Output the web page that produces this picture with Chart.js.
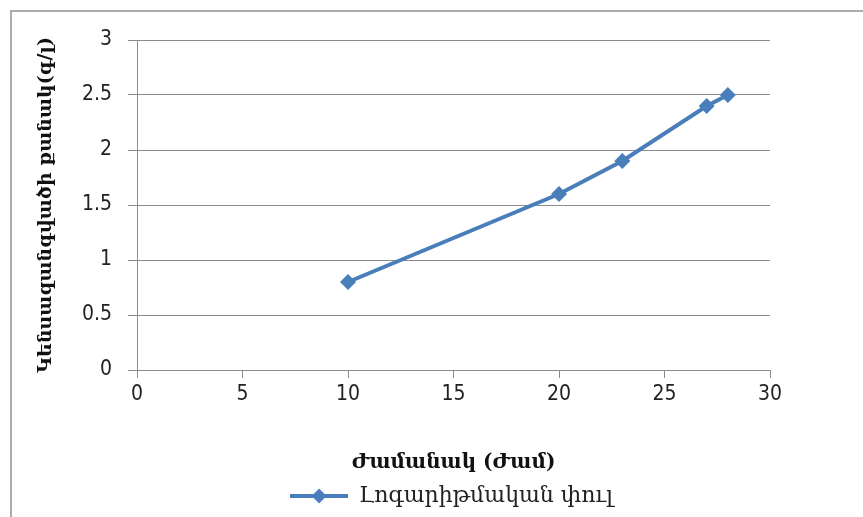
<!DOCTYPE html>
<html>
<head>
<meta charset="utf-8">
<script src="https://cdn.jsdelivr.net/npm/chart.js@4.4.1/dist/chart.umd.min.js"></script>
<style>
  html, body { margin: 0; padding: 0; background: #fff; }
  #wrap { position: relative; width: 863px; height: 517px; overflow: hidden; }
  #frame { position: absolute; left: 10px; top: 10px; width: 900px; height: 560px;
           border: 2px solid #acacac; box-sizing: border-box; pointer-events: none; }
  canvas { position: absolute; left: 0; top: 0; }
</style>
</head>
<body>
<div id="wrap">
  <canvas id="c" width="863" height="517"></canvas>
  <div id="frame"></div>
</div>
<script>
// Biomass growth during the logarithmic phase
const hours   = [10, 20, 23, 27, 28];
const biomass = [0.8, 1.6, 1.9, 2.4, 2.5];
const xTicks  = [0, 5, 10, 15, 20, 25, 30];
const yTicks  = [0, 0.5, 1, 1.5, 2, 2.5, 3];

const seriesLabel = 'Լոգարիթմական փուլ';
const xTitle = 'Ժամանակ (Ժամ)';
const yTitle = 'Կենսազանգվածի քանակ(գ/լ)';

const BLUE = '#4a7ebb';
const GRID = '#8c8c8c';
const TICK_FONT = { family: "'Liberation Sans Narrow', 'DejaVu Sans Condensed', sans-serif", size: 21 };
const ARM_FONT = "'DejaVu Serif', serif";

// Legend symbol: a short line with a diamond in the middle
const icon = document.createElement('canvas');
icon.width = 58; icon.height = 18;
(function () {
  const g = icon.getContext('2d');
  g.strokeStyle = BLUE; g.lineWidth = 4;
  g.beginPath(); g.moveTo(0, 9); g.lineTo(58, 9); g.stroke();
  g.fillStyle = BLUE;
  g.beginPath(); g.moveTo(29, 1.5); g.lineTo(36.5, 9); g.lineTo(29, 16.5); g.lineTo(21.5, 9); g.closePath(); g.fill();
})();

// Center the legend under the plot area rather than the padded layout box
const legendShift = {
  id: 'legendShift',
  afterLayout(chart) {
    if (chart.legend) {
      chart.legend.left = 40;
      chart.legend.right = 863;
    }
  }
};

new Chart(document.getElementById('c'), {
  type: 'line',
  data: {
    datasets: [{
      label: seriesLabel,
      data: hours.map((h, i) => ({ x: h, y: biomass[i] })),
      borderColor: BLUE,
      backgroundColor: BLUE,
      borderWidth: 4,
      pointStyle: 'rectRot',
      pointRadius: 8,
      pointHoverRadius: 8,
      pointBorderWidth: 0,
      tension: 0
    }]
  },
  plugins: [legendShift],
  options: {
    responsive: false,
    animation: false,
    layout: { padding: { top: 40, right: 93, left: 0, bottom: 0 } },
    plugins: {
      tooltip: { enabled: false },
      legend: {
        position: 'bottom',
        align: 'center',
        labels: {
          usePointStyle: true,
          pointStyle: icon,
          pointStyleWidth: 58,
          boxHeight: 18,
          padding: 10,
          color: '#222',
          font: { family: ARM_FONT, size: 22 }
        }
      }
    },
    scales: {
      x: {
        type: 'linear',
        min: 0, max: 30,
        afterBuildTicks: s => { s.ticks = xTicks.map(v => ({ value: v })); },
        afterFit: s => {
          const lh = s.chart.legend ? s.chart.legend.height : 40;
          s.height = 517 - 370 - lh;
        },
        border: { display: true, color: GRID, width: 1 },
        grid: { drawOnChartArea: false, drawTicks: true, tickLength: 8, color: GRID },
        ticks: { color: '#222', font: TICK_FONT, padding: 4, maxRotation: 0 },
        title: {
          display: true, text: xTitle, color: '#111',
          font: { family: ARM_FONT, size: 20, weight: 'bold' },
          padding: { top: 0, bottom: 0 }
        }
      },
      y: {
        type: 'linear',
        min: 0, max: 3,
        afterBuildTicks: s => { s.ticks = yTicks.map(v => ({ value: v })); },
        afterFit: s => { s.width = 137; },
        border: { display: true, color: GRID, width: 1 },
        grid: { drawOnChartArea: true, drawTicks: true, tickLength: 9, color: GRID },
        ticks: { color: '#222', font: TICK_FONT, padding: 16, callback: v => String(v) },
        title: {
          display: true, text: yTitle, color: '#111',
          font: { family: ARM_FONT, size: 19, weight: 'bold' },
          padding: { top: 35, bottom: 0 }
        }
      }
    }
  }
});
</script>
</body>
</html>
